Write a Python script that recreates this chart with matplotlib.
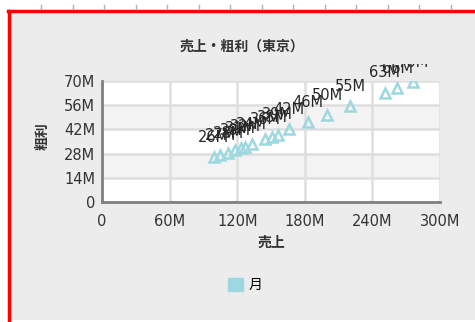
import matplotlib.pyplot as plt
from matplotlib.patches import Rectangle, Patch
from matplotlib.lines import Line2D
from matplotlib.transforms import Bbox, TransformedBbox
from matplotlib.ticker import FuncFormatter

# 売上 (x) and 粗利 (y), in millions, one point per month
sales = [99, 105, 112, 118, 123, 127, 133, 145, 151, 156, 166, 183, 200, 220, 251, 262, 276]
profit = [26, 27, 28.3, 30, 31, 32, 33.5, 36.5, 37.5, 39, 42, 46, 50.4, 55.3, 63.3, 66, 69.5]
x_ticks = [0, 60, 120, 180, 240, 300]
y_ticks = [0, 14, 28, 42, 56, 70]

cjk = ['Noto Sans CJK JP', 'DejaVu Sans']
point_color = '#9dd8e0'

W, H = 475, 322
fig = plt.figure(figsize=(W / 100, H / 100), dpi=100, facecolor='white')

# gray panel, red frame on the left and top only (the rest runs off the picture)
fig.add_artist(Rectangle((9 / W, 2 / H), 1.0, 1 - 13 / H, transform=fig.transFigure,
                         facecolor='#ececec', edgecolor='none', zorder=-10))
fig.add_artist(Line2D([9 / W, 9 / W], [2 / H, 1 - 11 / H], transform=fig.transFigure,
                      color='#ff0000', linewidth=2.5, zorder=-5))
fig.add_artist(Line2D([8 / W, 1], [1 - 11 / H, 1 - 11 / H], transform=fig.transFigure,
                      color='#ff0000', linewidth=2.5, zorder=-5))
# little ruler marks above the frame
for i in range(15):
    xx = (41 + 31.5 * i) / W
    fig.add_artist(Line2D([xx, xx], [1 - 5 / H, 1 - 9 / H], transform=fig.transFigure,
                          color='#b0b0b0', linewidth=1, zorder=-5))

ax = fig.add_axes([102 / W, 1 - 202 / H, 338 / W, 121 / H])
ax.set_facecolor('white')
ax.axhspan(14, 28, color='#f3f3f3', zorder=0)
ax.axhspan(42, 56, color='#f3f3f3', zorder=0)

ax.plot(sales, profit, linestyle='none', marker='^', markersize=7.5,
        markerfacecolor='none', markeredgecolor=point_color, markeredgewidth=1.8, zorder=3)

clip = TransformedBbox(Bbox([[102 / W, 0], [1, 1 - 64 / H]]), fig.transFigure)
for xv, yv in zip(sales, profit):
    t = ax.annotate(f'{round(yv)}M', (xv, yv), xytext=(0, 11), textcoords='offset points',
                    ha='center', va='baseline', fontsize=10.5, color='#262626',
                    annotation_clip=False, zorder=4)
    t.set_clip_box(clip)
    t.set_clip_on(True)

ax.set_xlim(0, 300)
ax.set_ylim(0, 70)
ax.set_xticks(x_ticks)
ax.set_yticks(y_ticks)
fmt = FuncFormatter(lambda v, p: '0' if v == 0 else f'{int(v)}M')
ax.xaxis.set_major_formatter(fmt)
ax.yaxis.set_major_formatter(fmt)
ax.tick_params(length=0, labelsize=10.5, labelcolor='#333333')
ax.tick_params(axis='x', pad=9)
ax.tick_params(axis='y', pad=5)
ax.grid(True, color='#dedede', linewidth=1.8)
ax.set_axisbelow(True)
for s in ['top', 'right']:
    ax.spines[s].set_visible(False)
for s in ['left', 'bottom']:
    ax.spines[s].set_color('#808080')
    ax.spines[s].set_linewidth(2)

fig.text(242 / W, 1 - 47 / H, '売上・粗利（東京）', ha='center', va='center',
         fontsize=10, fontweight='bold', family=cjk, color='#333333')
fig.text(271 / W, 1 - 243 / H, '売上', ha='center', va='center',
         fontsize=10, fontweight='bold', family=cjk, color='#333333')
fig.text(43 / W, 1 - 136 / H, '粗利', ha='center', va='center', rotation=90,
         fontsize=10, fontweight='bold', family=cjk, color='#333333')

fig.legend(handles=[Patch(color=point_color, label='月')], loc='center',
           bbox_to_anchor=(245 / W, 1 - 285 / H), frameon=False,
           handlelength=1.1, handleheight=1.1, handletextpad=0.4,
           prop={'family': cjk, 'size': 10})

fig.savefig('out.png', dpi=100)
